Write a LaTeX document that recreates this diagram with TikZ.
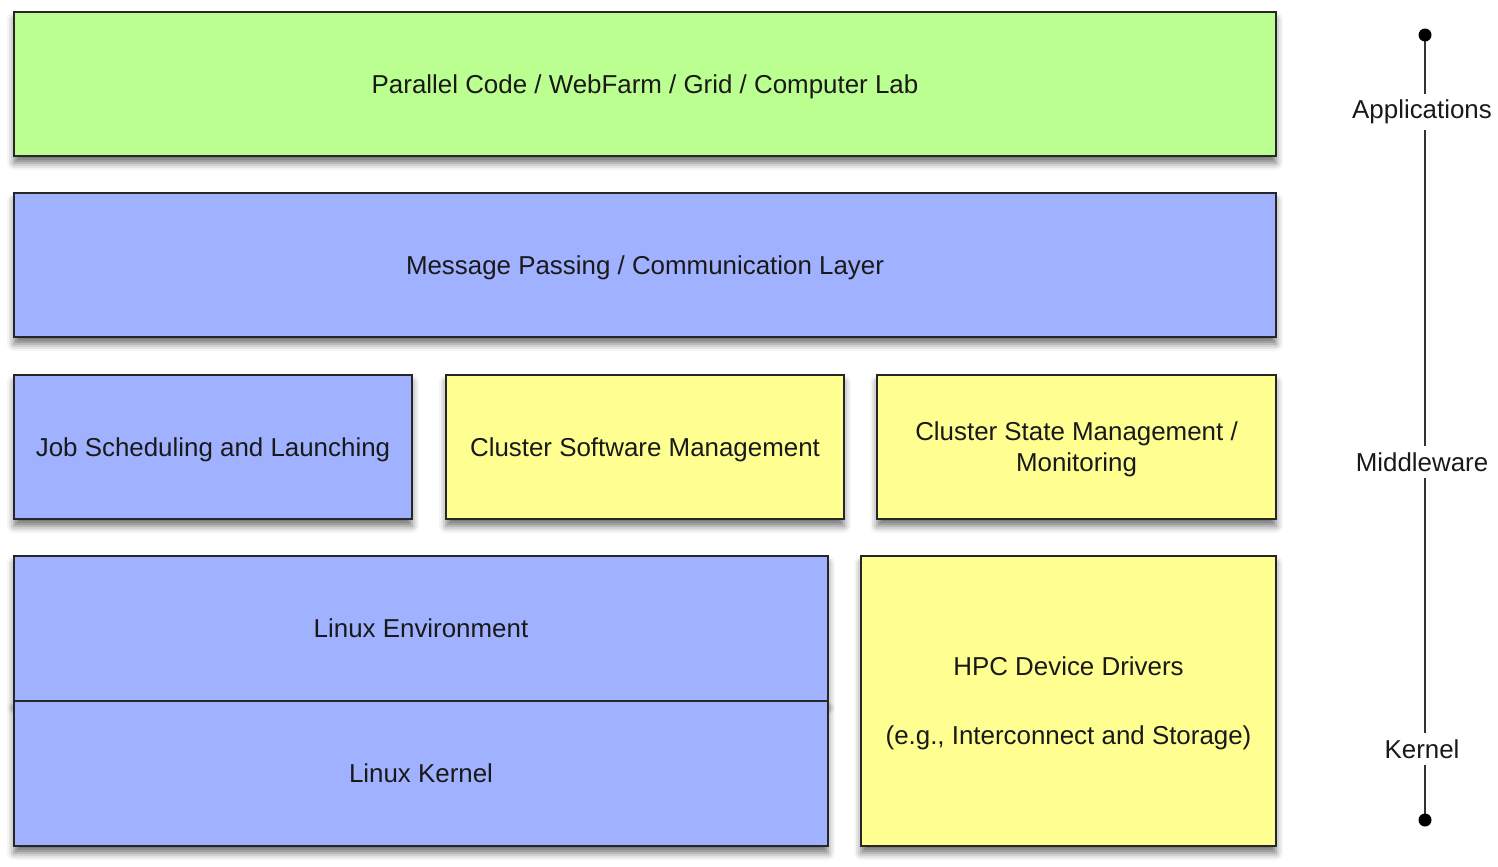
\documentclass[tikz,border=0pt]{standalone}
\usepackage{fontspec}
\setmainfont{Liberation Sans}
\usetikzlibrary{positioning,shadows.blur}
\definecolor{appgreen}{RGB}{187,255,145}
\definecolor{midblue}{RGB}{160,178,255}
\definecolor{drvyellow}{RGB}{255,255,145}
\tikzset{layer/.style={rectangle,draw=black!85,line width=2bp,anchor=north west,inner sep=0pt,
    align=center,text=black!90,font=\fontsize{26}{31}\selectfont,text depth=-3bp,
    blur shadow={shadow xshift=0bp,shadow yshift=-7bp,shadow blur radius=7bp,shadow opacity=55}},
  axis label/.style={font=\fontsize{26}{31}\selectfont,text=black!90,inner sep=6bp},
}

\begin{document}
\begin{tikzpicture}[x=1bp,y=-1bp]
		\useasboundingbox (0,0) rectangle (1498,866);
		\node[layer,fill=appgreen,minimum width=1262bp,minimum height=144bp] (app) at (13,11) {Parallel Code / WebFarm / Grid / Computer Lab};
		\node[layer,fill=midblue,minimum width=1262bp,minimum height=144bp] (msg) at (13,192) {Message Passing / Communication Layer};
		\node[layer,fill=midblue,minimum width=398bp,minimum height=144bp] (job) at (13,374) {Job Scheduling and Launching};
		\node[layer,fill=drvyellow,minimum width=398bp,minimum height=144bp] (csw) at (445,374) {Cluster Software Management};
		\node[layer,fill=drvyellow,minimum width=399bp,minimum height=144bp] (cst) at (876,374) {Cluster State Management /\\Monitoring};
		\node[layer,fill=drvyellow,minimum width=415bp,minimum height=290bp] (hpc) at (860,555) {HPC Device Drivers\\[38bp](e.g., Interconnect and Storage)};
		\node[layer,fill=midblue,minimum width=814bp,minimum height=145bp] (env) at (13,555) {Linux Environment};
		\node[layer,fill=midblue,minimum width=814bp,minimum height=145bp] (kern) at (13,700) {Linux Kernel};
		
		% axis on the right
		\coordinate (top) at (1425,35);
		\coordinate (bot) at (1425,820);
		\node[axis label] (apps) at (1422,112) {Applications};
		\node[axis label] (mid) at (1422,462) {Middleware};
		\node[axis label] (krn) at (1422,749) {Kernel};
		\draw[line width=2bp,black!80] (top) -- (apps.north -| top)
		  (apps.south -| top) -- (mid.north -| top)
		  (mid.south -| top) -- (krn.north -| top)
		  (krn.south -| top) -- (bot);
		\fill (top) circle (6.5bp);
		\fill (bot) circle (6.5bp);
	\end{tikzpicture}
\end{document}
